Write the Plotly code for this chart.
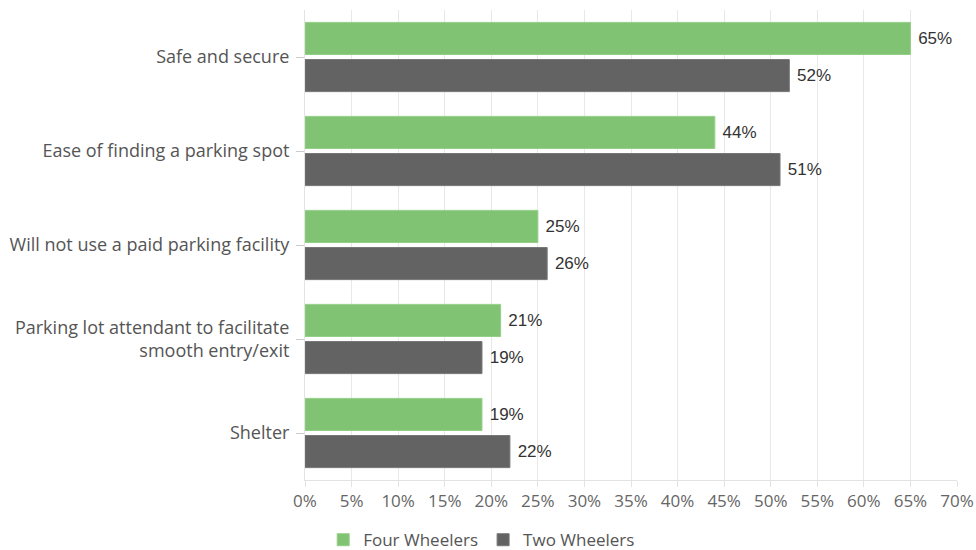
import plotly.graph_objects as go

categories = [
    "Safe and secure",
    "Ease of finding a parking spot",
    "Will not use a paid parking facility",
    "Parking lot attendant to facilitate<br>smooth entry/exit",
    "Shelter",
]
four_wheelers = [65, 44, 25, 21, 19]
two_wheelers = [52, 51, 26, 19, 22]
x_ticks = list(range(0, 71, 5))

LABEL_FONT = "Open Sans, Noto Sans, sans-serif"
VALUE_FONT = "Liberation Sans, Arial, sans-serif"

fig = go.Figure()
fig.add_trace(go.Bar(
    name="Four Wheelers", y=categories, x=four_wheelers, orientation="h",
    marker=dict(color="#80c473", line=dict(color="#94cf88", width=1)),
    text=[f" {v}%" for v in four_wheelers], textposition="outside",
    textfont=dict(family=VALUE_FONT, size=17, color="#333333"),
    cliponaxis=False,
))
fig.add_trace(go.Bar(
    name="Two Wheelers", y=categories, x=two_wheelers, orientation="h",
    marker=dict(color="#636363", line=dict(color="#777777", width=1)),
    text=[f" {v}%" for v in two_wheelers], textposition="outside",
    textfont=dict(family=VALUE_FONT, size=17, color="#333333"),
    cliponaxis=False,
))

fig.update_layout(
    width=976, height=550,
    margin=dict(l=305, r=19, t=10, b=70, autoexpand=False),
    paper_bgcolor="white", plot_bgcolor="white",
    barmode="group", bargap=0.21, bargroupgap=0.135,
    font=dict(family=LABEL_FONT, size=16, color="#555555"),
    legend=dict(
        orientation="h", x=0.271, xanchor="center", y=-0.128, yanchor="middle",
        font=dict(family=LABEL_FONT, size=17, color="#555555"),
        itemwidth=30, traceorder="normal",
    ),
    xaxis=dict(
        range=[0, 70], tickvals=x_ticks, ticktext=[f"{t}%" for t in x_ticks],
        showgrid=True, gridcolor="#e8e8e8", gridwidth=1,
        ticks="outside", ticklen=6, tickcolor="#e3e3e3",
        showline=True, linecolor="#e3e3e3",
        tickfont=dict(family=LABEL_FONT, size=17, color="#666666"),
        zeroline=False,
    ),
    yaxis=dict(
        autorange="reversed", showgrid=False, ticks="outside", ticklen=8,
        tickcolor="#cccccc", ticklabelstandoff=3,
        showline=True, linecolor="#e3e3e3",
        tickfont=dict(family=LABEL_FONT, size=18, color="#555555"),
    ),
)

fig.write_html("out.html")
